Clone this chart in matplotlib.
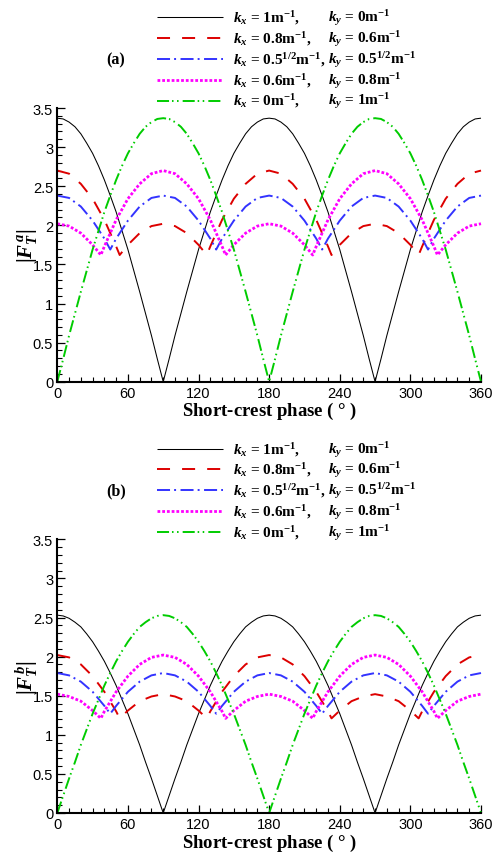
import matplotlib
matplotlib.use("Agg")
import matplotlib.pyplot as plt
from matplotlib.lines import Line2D
from matplotlib.ticker import MultipleLocator

plt.rcParams["mathtext.fontset"] = "custom"
plt.rcParams["mathtext.rm"] = "Liberation Serif:bold"
plt.rcParams["mathtext.it"] = "Liberation Serif:bold:italic"
plt.rcParams["mathtext.bf"] = "Liberation Serif:bold"

# ---- data ------------------------------------------------------------------
phase_5 = [0, 5, 10, 15, 20, 25, 30, 35, 40, 45, 50, 55, 60, 65, 70, 75, 80, 85, 90,
           95, 100, 105, 110, 115, 120, 125, 130, 135, 140, 145, 150, 155, 160, 165, 170, 175, 180,
           185, 190, 195, 200, 205, 210, 215, 220, 225, 230, 235, 240, 245, 250, 255, 260, 265, 270,
           275, 280, 285, 290, 295, 300, 305, 310, 315, 320, 325, 330, 335, 340, 345, 350, 355, 360]
phase_red = [0, 10, 20, 30, 40, 50, 53, 60, 70, 80, 90, 100, 110, 120, 127, 130, 140, 150, 160, 170, 180,
             190, 200, 210, 220, 230, 233, 240, 250, 260, 270, 280, 290, 300, 307, 310, 320, 330, 340, 350, 360]
phase_blue = [0, 10, 20, 30, 40, 45, 50, 60, 70, 80, 90, 100, 110, 120, 130, 135, 140, 150, 160, 170, 180,
              190, 200, 210, 220, 225, 230, 240, 250, 260, 270, 280, 290, 300, 310, 315, 320, 330, 340, 350, 360]
phase_mag = [0, 10, 20, 30, 37, 40, 50, 60, 70, 80, 90, 100, 110, 120, 130, 140, 143, 150, 160, 170, 180,
             190, 200, 210, 217, 220, 230, 240, 250, 260, 270, 280, 290, 300, 310, 320, 323, 330, 340, 350, 360]

# panel (a)
black_a = [3.37, 3.36, 3.32, 3.26, 3.17, 3.05, 2.92, 2.76, 2.58, 2.38, 2.17, 1.93, 1.69, 1.42, 1.15, 0.87, 0.59, 0.29, 0.0,
           0.29, 0.59, 0.87, 1.15, 1.42, 1.69, 1.93, 2.17, 2.38, 2.58, 2.76, 2.92, 3.05, 3.17, 3.26, 3.32, 3.36, 3.37,
           3.36, 3.32, 3.26, 3.17, 3.05, 2.92, 2.76, 2.58, 2.38, 2.17, 1.93, 1.69, 1.42, 1.15, 0.87, 0.59, 0.29, 0.0,
           0.29, 0.59, 0.87, 1.15, 1.42, 1.69, 1.93, 2.17, 2.38, 2.58, 2.76, 2.92, 3.05, 3.17, 3.26, 3.32, 3.36, 3.37]
green_a = [0.0, 0.29, 0.59, 0.87, 1.15, 1.42, 1.69, 1.93, 2.17, 2.38, 2.58, 2.76, 2.92, 3.05, 3.17, 3.26, 3.32, 3.36, 3.37,
           3.36, 3.32, 3.26, 3.17, 3.05, 2.92, 2.76, 2.58, 2.38, 2.17, 1.93, 1.69, 1.42, 1.15, 0.87, 0.59, 0.29, 0.0,
           0.29, 0.59, 0.87, 1.15, 1.42, 1.69, 1.93, 2.17, 2.38, 2.58, 2.76, 2.92, 3.05, 3.17, 3.26, 3.32, 3.36, 3.37,
           3.36, 3.32, 3.26, 3.17, 3.05, 2.92, 2.76, 2.58, 2.38, 2.17, 1.93, 1.69, 1.42, 1.15, 0.87, 0.59, 0.29, 0.0]
red_a = [2.70, 2.66, 2.53, 2.34, 2.07, 1.73, 1.62, 1.75, 1.90, 1.99, 2.02,
         1.99, 1.90, 1.75, 1.62, 1.73, 2.07, 2.34, 2.53, 2.66, 2.70,
         2.66, 2.53, 2.34, 2.07, 1.73, 1.62, 1.75, 1.90, 1.99, 2.02,
         1.99, 1.90, 1.75, 1.62, 1.73, 2.07, 2.34, 2.53, 2.66, 2.70]
blue_a = [2.38, 2.35, 2.24, 2.06, 1.83, 1.69, 1.83, 2.06, 2.24, 2.35, 2.38,
          2.35, 2.24, 2.06, 1.83, 1.69, 1.83, 2.06, 2.24, 2.35, 2.38,
          2.35, 2.24, 2.06, 1.83, 1.69, 1.83, 2.06, 2.24, 2.35, 2.38,
          2.35, 2.24, 2.06, 1.83, 1.69, 1.83, 2.06, 2.24, 2.35, 2.38]
mag_a = [2.02, 1.99, 1.90, 1.75, 1.62, 1.73, 2.07, 2.34, 2.53, 2.66, 2.70,
         2.66, 2.53, 2.34, 2.07, 1.73, 1.62, 1.75, 1.90, 1.99, 2.02,
         1.99, 1.90, 1.75, 1.62, 1.73, 2.07, 2.34, 2.53, 2.66, 2.70,
         2.66, 2.53, 2.34, 2.07, 1.73, 1.62, 1.75, 1.90, 1.99, 2.02]

# panel (b)
black_b = [2.53, 2.52, 2.49, 2.44, 2.38, 2.29, 2.19, 2.07, 1.94, 1.79, 1.63, 1.45, 1.27, 1.07, 0.87, 0.65, 0.44, 0.22, 0.0,
           0.22, 0.44, 0.65, 0.87, 1.07, 1.27, 1.45, 1.63, 1.79, 1.94, 2.07, 2.19, 2.29, 2.38, 2.44, 2.49, 2.52, 2.53,
           2.52, 2.49, 2.44, 2.38, 2.29, 2.19, 2.07, 1.94, 1.79, 1.63, 1.45, 1.27, 1.07, 0.87, 0.65, 0.44, 0.22, 0.0,
           0.22, 0.44, 0.65, 0.87, 1.07, 1.27, 1.45, 1.63, 1.79, 1.94, 2.07, 2.19, 2.29, 2.38, 2.44, 2.49, 2.52, 2.53]
green_b = [0.0, 0.22, 0.44, 0.65, 0.87, 1.07, 1.27, 1.45, 1.63, 1.79, 1.94, 2.07, 2.19, 2.29, 2.38, 2.44, 2.49, 2.52, 2.53,
           2.52, 2.49, 2.44, 2.38, 2.29, 2.19, 2.07, 1.94, 1.79, 1.63, 1.45, 1.27, 1.07, 0.87, 0.65, 0.44, 0.22, 0.0,
           0.22, 0.44, 0.65, 0.87, 1.07, 1.27, 1.45, 1.63, 1.79, 1.94, 2.07, 2.19, 2.29, 2.38, 2.44, 2.49, 2.52, 2.53,
           2.52, 2.49, 2.44, 2.38, 2.29, 2.19, 2.07, 1.94, 1.79, 1.63, 1.45, 1.27, 1.07, 0.87, 0.65, 0.44, 0.22, 0.0]
red_b = [2.02, 1.99, 1.90, 1.75, 1.55, 1.30, 1.21, 1.31, 1.43, 1.49, 1.52,
         1.49, 1.43, 1.31, 1.21, 1.30, 1.55, 1.75, 1.90, 1.99, 2.02,
         1.99, 1.90, 1.75, 1.55, 1.30, 1.21, 1.31, 1.43, 1.49, 1.52,
         1.49, 1.43, 1.31, 1.21, 1.30, 1.55, 1.75, 1.90, 1.99, 2.02]
blue_b = [1.79, 1.76, 1.68, 1.55, 1.37, 1.27, 1.37, 1.55, 1.68, 1.76, 1.79,
          1.76, 1.68, 1.55, 1.37, 1.27, 1.37, 1.55, 1.68, 1.76, 1.79,
          1.76, 1.68, 1.55, 1.37, 1.27, 1.37, 1.55, 1.68, 1.76, 1.79,
          1.76, 1.68, 1.55, 1.37, 1.27, 1.37, 1.55, 1.68, 1.76, 1.79]
mag_b = [1.52, 1.49, 1.43, 1.31, 1.21, 1.30, 1.55, 1.75, 1.90, 1.99, 2.02,
         1.99, 1.90, 1.75, 1.55, 1.30, 1.21, 1.31, 1.43, 1.49, 1.52,
         1.49, 1.43, 1.31, 1.21, 1.30, 1.55, 1.75, 1.90, 1.99, 2.02,
         1.99, 1.90, 1.75, 1.55, 1.30, 1.21, 1.31, 1.43, 1.49, 1.52]

kx_labels = [r"$k_x$ = 1m$^{-1}$,", r"$k_x$ = 0.8m$^{-1}$,", r"$k_x$ = 0.5$^{1/2}$m$^{-1}$,",
             r"$k_x$ = 0.6m$^{-1}$,", r"$k_x$ = 0m$^{-1}$,"]
ky_labels = [r"$k_y$ = 0m$^{-1}$", r"$k_y$ = 0.6m$^{-1}$", r"$k_y$ = 0.5$^{1/2}$m$^{-1}$",
             r"$k_y$ = 0.8m$^{-1}$", r"$k_y$ = 1m$^{-1}$"]

# ---- styles -------------------------------------------------------------------
STYLES = [
    dict(color="black", lw=0.75, ls="-"),
    dict(color="#dd0000", lw=1.4, ls=(0, (6.7, 6.2))),
    dict(color="#3333ff", lw=1.4, ls=(0, (6.7, 2.1, 1.0, 2.3))),
    dict(color="#ff00ff", lw=2.0, ls=(0, (1.0, 0.7))),
    dict(color="#00cc00", lw=1.4, ls=(0, (6.2, 1.5, 0.8, 1.8, 0.8, 2.1))),
]

W, H = 493, 854
fig = plt.figure(figsize=(W / 100, H / 100), dpi=100)


def fx(px):
    return px / W


def fy(py):
    return 1 - py / H


SERIF = dict(family="Liberation Serif", weight="bold")
X0, X1 = 57.3, 481


def draw_panel(top_px, bottom_px, series, tag, ylab):
    ax = fig.add_axes([fx(X0), fy(bottom_px), fx(X1) - fx(X0), fy(top_px) - fy(bottom_px)])
    ax.set_facecolor("none")
    for (x, y), st in zip(series, STYLES):
        ax.plot(x, y, solid_capstyle="butt", dash_capstyle="butt", clip_on=False, **st)
    ax.set_xlim(0, 360)
    ax.set_ylim(0, 3.5)
    ax.xaxis.set_major_locator(MultipleLocator(60))
    ax.xaxis.set_minor_locator(MultipleLocator(10))
    ax.yaxis.set_major_locator(MultipleLocator(0.5))
    ax.yaxis.set_minor_locator(MultipleLocator(0.1))
    ax.yaxis.set_major_formatter(plt.FuncFormatter(lambda v, p: f"{v:g}"))
    for s in ("top", "right"):
        ax.spines[s].set_visible(False)
    for s in ("left", "bottom"):
        ax.spines[s].set_linewidth(1.5)
    ax.tick_params(which="major", direction="in", length=6, width=0.9, labelsize=10.5, pad=3)
    ax.tick_params(which="minor", direction="in", length=3.5, width=0.8)
    for lab in ax.get_xticklabels() + ax.get_yticklabels():
        lab.set_family("Liberation Sans")
    hpx = bottom_px - top_px
    ax.set_xlabel("Short-crest phase ( $\\degree$ )", fontsize=13.5, va="center", **SERIF)
    ax.xaxis.set_label_coords(0.5, -29 / hpx)
    ax.set_ylabel(ylab, fontsize=15, va="center")
    ax.yaxis.set_label_coords((27 - X0) / (X1 - X0), 0.5)

    # legend drawn by hand, in figure pixels (two text columns)
    y0 = top_px - 90.7
    for i, st in enumerate(STYLES):
        yy = y0 + i * 20.8
        fig.add_artist(Line2D([fx(156.5), fx(222.5)], [fy(yy), fy(yy)], transform=fig.transFigure,
                              solid_capstyle="butt", dash_capstyle="butt", **st))
        fig.text(fx(233), fy(yy), kx_labels[i], fontsize=11, ha="left", va="center", **SERIF)
        fig.text(fx(328), fy(yy), ky_labels[i], fontsize=11, ha="left", va="center", **SERIF)
    fig.text(fx(116), fy(y0 + 2 * 20.8), tag, fontsize=11.5, ha="center", va="center", **SERIF)
    return ax


draw_panel(109, 382.7,
           [(phase_5, black_a), (phase_red, red_a), (phase_blue, blue_a), (phase_mag, mag_a), (phase_5, green_a)],
           "(a)", r"$|F^{\,a}_{T}|$")
draw_panel(540.3, 814,
           [(phase_5, black_b), (phase_red, red_b), (phase_blue, blue_b), (phase_mag, mag_b), (phase_5, green_b)],
           "(b)", r"$|F^{\,b}_{T}|$")

fig.savefig("out.png", dpi=100)
